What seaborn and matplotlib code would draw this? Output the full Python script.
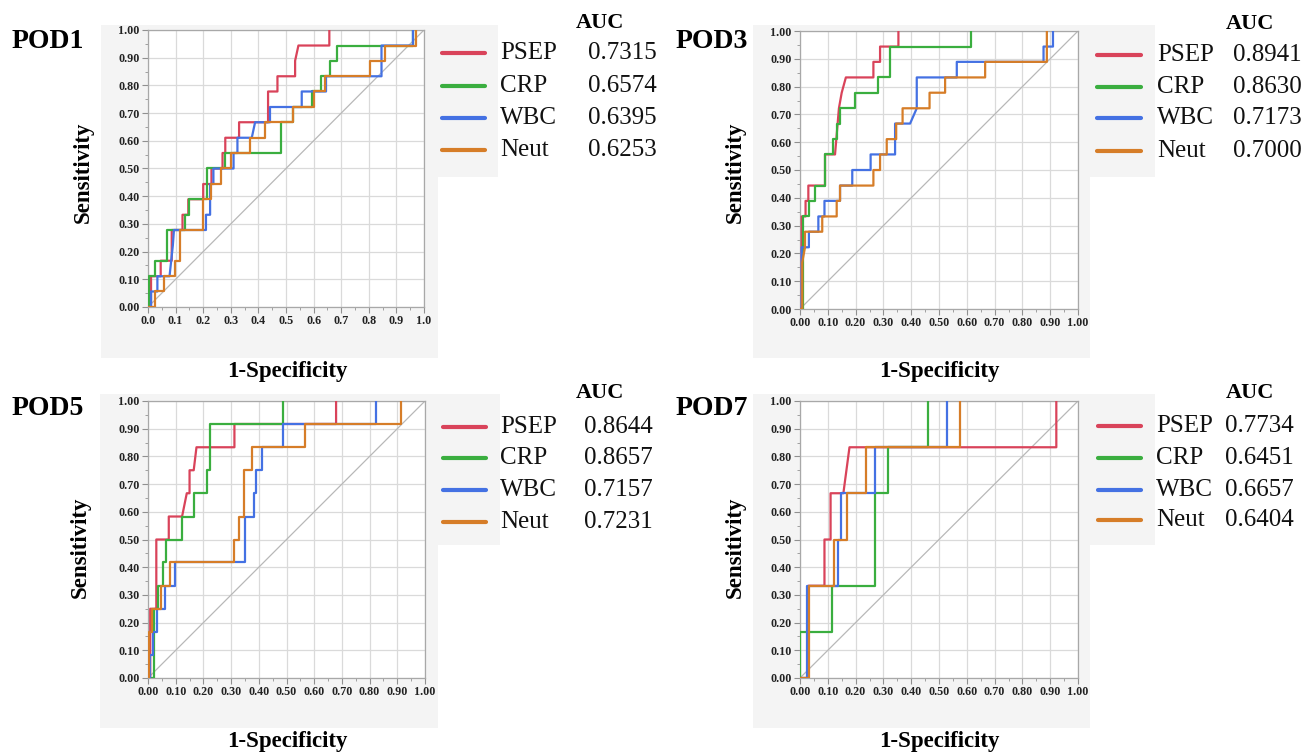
import numpy as np
import pandas as pd
import matplotlib
matplotlib.use("Agg")
import matplotlib.pyplot as plt
import seaborn as sns
from matplotlib.patches import Rectangle
from matplotlib.lines import Line2D
from matplotlib.ticker import MultipleLocator, FormatStrFormatter

# ---------------- data ----------------
markers = ["PSEP", "CRP", "WBC", "Neut"]
colors = ["#d9435a", "#3aae3f", "#4471e3", "#d67d28"]
panels = ["POD1", "POD3", "POD5", "POD7"]

auc_pod1 = ["0.7315", "0.6574", "0.6395", "0.6253"]
auc_pod3 = ["0.8941", "0.8630", "0.7173", "0.7000"]
auc_pod5 = ["0.8644", "0.8657", "0.7157", "0.7231"]
auc_pod7 = ["0.7734", "0.6451", "0.6657", "0.6404"]

diag = [0.0, 1.0]

# POD1
pod1_psep_x = [0, 0.011, 0.011, 0.046, 0.046, 0.086, 0.086, 0.125, 0.125, 0.146, 0.146, 0.2, 0.2, 0.23, 0.23, 0.27, 0.27, 0.28, 0.28, 0.33, 0.33, 0.435, 0.435, 0.469, 0.469, 0.533, 0.533, 0.545, 0.657, 0.657]
pod1_psep_y = [0, 0, 0.111, 0.111, 0.167, 0.167, 0.278, 0.278, 0.333, 0.333, 0.389, 0.389, 0.444, 0.444, 0.5, 0.5, 0.556, 0.556, 0.611, 0.611, 0.667, 0.667, 0.778, 0.778, 0.833, 0.833, 0.889, 0.944, 0.944, 1.0]
pod1_crp_x = [0, 0.004, 0.004, 0.027, 0.027, 0.069, 0.069, 0.135, 0.135, 0.148, 0.148, 0.215, 0.215, 0.28, 0.28, 0.482, 0.482, 0.527, 0.527, 0.593, 0.593, 0.625, 0.625, 0.66, 0.66, 0.683, 0.683, 0.96, 0.96]
pod1_crp_y = [0, 0, 0.111, 0.111, 0.167, 0.167, 0.278, 0.278, 0.333, 0.333, 0.389, 0.389, 0.5, 0.5, 0.556, 0.556, 0.667, 0.667, 0.722, 0.722, 0.778, 0.778, 0.833, 0.833, 0.889, 0.889, 0.944, 0.944, 1.0]
pod1_wbc_x = [0, 0.011, 0.011, 0.034, 0.034, 0.078, 0.09, 0.094, 0.21, 0.21, 0.225, 0.225, 0.237, 0.237, 0.31, 0.31, 0.324, 0.324, 0.376, 0.388, 0.442, 0.442, 0.557, 0.557, 0.645, 0.645, 0.846, 0.846, 0.96, 0.96]
pod1_wbc_y = [0, 0, 0.056, 0.056, 0.111, 0.111, 0.222, 0.278, 0.278, 0.333, 0.333, 0.444, 0.444, 0.5, 0.5, 0.556, 0.556, 0.611, 0.611, 0.667, 0.667, 0.722, 0.722, 0.778, 0.778, 0.833, 0.833, 0.944, 0.944, 1.0]
pod1_neut_x = [0, 0.025, 0.025, 0.058, 0.058, 0.098, 0.098, 0.116, 0.116, 0.2, 0.2, 0.23, 0.23, 0.266, 0.266, 0.302, 0.302, 0.37, 0.37, 0.424, 0.424, 0.527, 0.527, 0.603, 0.603, 0.641, 0.641, 0.804, 0.804, 0.858, 0.858, 0.97, 0.97]
pod1_neut_y = [0, 0, 0.056, 0.056, 0.111, 0.111, 0.167, 0.167, 0.278, 0.278, 0.389, 0.389, 0.444, 0.444, 0.5, 0.5, 0.556, 0.556, 0.611, 0.611, 0.667, 0.667, 0.722, 0.722, 0.778, 0.778, 0.833, 0.833, 0.889, 0.889, 0.944, 0.944, 1.0]

# POD3
pod3_psep_x = [0, 0.006, 0.006, 0.02, 0.02, 0.03, 0.03, 0.09, 0.09, 0.126, 0.14, 0.15, 0.165, 0.264, 0.264, 0.288, 0.288, 0.354, 0.354]
pod3_psep_y = [0, 0, 0.333, 0.333, 0.389, 0.389, 0.444, 0.444, 0.556, 0.556, 0.722, 0.778, 0.833, 0.833, 0.889, 0.889, 0.944, 0.944, 1.0]
pod3_crp_x = [0, 0.012, 0.012, 0.032, 0.032, 0.054, 0.054, 0.09, 0.09, 0.12, 0.12, 0.132, 0.132, 0.145, 0.145, 0.198, 0.198, 0.28, 0.28, 0.322, 0.322, 0.615, 0.615]
pod3_crp_y = [0, 0, 0.333, 0.333, 0.389, 0.389, 0.444, 0.444, 0.556, 0.556, 0.611, 0.611, 0.667, 0.667, 0.722, 0.722, 0.778, 0.778, 0.833, 0.833, 0.944, 0.944, 1.0]
pod3_wbc_x = [0, 0.006, 0.006, 0.032, 0.032, 0.066, 0.066, 0.088, 0.088, 0.144, 0.144, 0.188, 0.188, 0.254, 0.254, 0.342, 0.342, 0.396, 0.42, 0.42, 0.564, 0.564, 0.876, 0.876, 0.91, 0.91]
pod3_wbc_y = [0, 0, 0.222, 0.222, 0.278, 0.278, 0.333, 0.333, 0.389, 0.389, 0.444, 0.444, 0.5, 0.5, 0.556, 0.556, 0.667, 0.667, 0.722, 0.833, 0.833, 0.889, 0.889, 0.944, 0.944, 1.0]
pod3_neut_x = [0, 0.008, 0.008, 0.018, 0.018, 0.08, 0.08, 0.132, 0.132, 0.144, 0.144, 0.264, 0.264, 0.288, 0.288, 0.312, 0.312, 0.346, 0.346, 0.369, 0.369, 0.466, 0.466, 0.522, 0.522, 0.666, 0.666, 0.888, 0.888]
pod3_neut_y = [0, 0, 0.167, 0.222, 0.278, 0.278, 0.333, 0.333, 0.389, 0.389, 0.444, 0.444, 0.5, 0.5, 0.556, 0.556, 0.611, 0.611, 0.667, 0.667, 0.722, 0.722, 0.778, 0.778, 0.833, 0.833, 0.889, 0.889, 1.0]

# POD5
pod5_psep_x = [0, 0.008, 0.008, 0.03, 0.03, 0.075, 0.075, 0.123, 0.14, 0.15, 0.15, 0.165, 0.175, 0.312, 0.312, 0.679, 0.679]
pod5_psep_y = [0, 0, 0.25, 0.25, 0.5, 0.5, 0.583, 0.583, 0.667, 0.667, 0.75, 0.75, 0.833, 0.833, 0.917, 0.917, 1.0]
pod5_crp_x = [0, 0.02, 0.02, 0.035, 0.035, 0.053, 0.053, 0.065, 0.065, 0.123, 0.123, 0.167, 0.167, 0.213, 0.213, 0.223, 0.223, 0.489, 0.489]
pod5_crp_y = [0, 0, 0.25, 0.25, 0.333, 0.333, 0.417, 0.417, 0.5, 0.5, 0.583, 0.583, 0.667, 0.667, 0.75, 0.75, 0.917, 0.917, 1.0]
pod5_wbc_x = [0, 0.007, 0.007, 0.017, 0.017, 0.031, 0.031, 0.061, 0.061, 0.098, 0.098, 0.349, 0.349, 0.381, 0.381, 0.389, 0.389, 0.413, 0.413, 0.489, 0.489, 0.823, 0.823]
pod5_wbc_y = [0, 0, 0.083, 0.083, 0.167, 0.167, 0.25, 0.25, 0.333, 0.333, 0.417, 0.417, 0.583, 0.583, 0.667, 0.667, 0.75, 0.75, 0.833, 0.833, 0.917, 0.917, 1.0]
pod5_neut_x = [0, 0.005, 0.005, 0.013, 0.013, 0.046, 0.046, 0.079, 0.079, 0.309, 0.309, 0.33, 0.33, 0.345, 0.345, 0.377, 0.377, 0.567, 0.567, 0.913, 0.913]
pod5_neut_y = [0, 0, 0.167, 0.167, 0.25, 0.25, 0.333, 0.333, 0.417, 0.417, 0.5, 0.5, 0.583, 0.583, 0.75, 0.75, 0.833, 0.833, 0.917, 0.917, 1.0]

# POD7
pod7_psep_x = [0, 0.03, 0.03, 0.088, 0.088, 0.11, 0.11, 0.156, 0.178, 0.922, 0.922]
pod7_psep_y = [0, 0, 0.333, 0.333, 0.5, 0.5, 0.667, 0.667, 0.833, 0.833, 1.0]
pod7_crp_x = [0, 0, 0.114, 0.114, 0.268, 0.268, 0.316, 0.316, 0.462, 0.462]
pod7_crp_y = [0, 0.167, 0.167, 0.333, 0.333, 0.667, 0.667, 0.833, 0.833, 1.0]
pod7_wbc_x = [0, 0.024, 0.024, 0.136, 0.136, 0.146, 0.146, 0.27, 0.27, 0.528, 0.528]
pod7_wbc_y = [0, 0, 0.333, 0.333, 0.5, 0.5, 0.667, 0.667, 0.833, 0.833, 1.0]
pod7_neut_x = [0, 0.034, 0.034, 0.124, 0.124, 0.17, 0.17, 0.238, 0.238, 0.574, 0.574]
pod7_neut_y = [0, 0, 0.333, 0.333, 0.5, 0.5, 0.667, 0.667, 0.833, 0.833, 1.0]

curves = {
    "POD1": [(pod1_psep_x, pod1_psep_y), (pod1_crp_x, pod1_crp_y), (pod1_wbc_x, pod1_wbc_y), (pod1_neut_x, pod1_neut_y)],
    "POD3": [(pod3_psep_x, pod3_psep_y), (pod3_crp_x, pod3_crp_y), (pod3_wbc_x, pod3_wbc_y), (pod3_neut_x, pod3_neut_y)],
    "POD5": [(pod5_psep_x, pod5_psep_y), (pod5_crp_x, pod5_crp_y), (pod5_wbc_x, pod5_wbc_y), (pod5_neut_x, pod5_neut_y)],
    "POD7": [(pod7_psep_x, pod7_psep_y), (pod7_crp_x, pod7_crp_y), (pod7_wbc_x, pod7_wbc_y), (pod7_neut_x, pod7_neut_y)],
}
aucs = {"POD1": auc_pod1, "POD3": auc_pod3, "POD5": auc_pod5, "POD7": auc_pod7}

# ---------------- layout (pixels) ----------------
W, H = 1302, 755
sns.set_style("white")
plt.rcParams["font.family"] = ["Liberation Serif", "DejaVu Serif"]

fig = plt.figure(figsize=(W / 100, H / 100), dpi=100)
fig.patch.set_facecolor("white")

def fx(px):
    return px / W

def fy(py):
    return 1 - py / H

layout = {
    "POD1": dict(ax=(148, 30, 424, 307), box=(101, 25, 438, 358), lbox=(438, 25, 498, 177),
                 title=(12, 41), ylab=(83, 172), xlab=(287, 372),
                 lx=(442, 485), nx=500, vx=588, auc=(600, 23), rows=[53, 86, 118, 150], xfmt="%.1f"),
    "POD3": dict(ax=(800, 31, 1078, 309), box=(753, 25, 1090, 358), lbox=(1090, 25, 1155, 177),
                 title=(676, 41), ylab=(735, 172), xlab=(939, 372),
                 lx=(1097, 1141), nx=1157, vx=1233, auc=(1250, 24), rows=[55, 87, 118, 151], xfmt="%.2f"),
    "POD5": dict(ax=(148, 401, 425, 678), box=(100, 394, 438, 728), lbox=(438, 394, 500, 545),
                 title=(12, 409), ylab=(80, 547), xlab=(287, 742),
                 lx=(443, 486), nx=500, vx=584, auc=(600, 393), rows=[427, 458, 490, 522], xfmt="%.2f"),
    "POD7": dict(ax=(800, 401, 1078, 678), box=(753, 394, 1090, 728), lbox=(1090, 394, 1155, 545),
                 title=(676, 409), ylab=(735, 547), xlab=(939, 742),
                 lx=(1098, 1141), nx=1156, vx=1225, auc=(1250, 393), rows=[426, 458, 490, 520], xfmt="%.2f"),
}

bg = "#f4f4f4"
for p in panels:
    L = layout[p]
    for (x0, y0, x1, y1) in (L["box"], L["lbox"]):
        fig.add_artist(Rectangle((fx(x0), fy(y1)), (x1 - x0) / W, (y1 - y0) / H,
                                 transform=fig.transFigure, facecolor=bg, edgecolor="none", zorder=0))

for p in panels:
    L = layout[p]
    l, t, r, b = L["ax"]
    ax = fig.add_axes([fx(l), fy(b), (r - l) / W, (b - t) / H])
    ax.set_facecolor("white")

    sns.lineplot(x=diag, y=diag, color="#b8b8b8", linewidth=0.9, ax=ax, zorder=2)

    frames = []
    for name, (xs, ys) in zip(markers, curves[p]):
        frames.append(pd.DataFrame({"fpr": xs, "tpr": ys, "marker": name}))
    df = pd.concat(frames, ignore_index=True)
    sns.lineplot(data=df, x="fpr", y="tpr", hue="marker", hue_order=markers, palette=colors,
                 sort=False, estimator=None, legend=False, linewidth=1.6, ax=ax, zorder=3)

    ax.set_xlim(0, 1)
    ax.set_ylim(0, 1)
    ax.xaxis.set_major_locator(MultipleLocator(0.1))
    ax.xaxis.set_minor_locator(MultipleLocator(0.05))
    ax.yaxis.set_major_locator(MultipleLocator(0.1))
    ax.yaxis.set_minor_locator(MultipleLocator(0.05))
    ax.xaxis.set_major_formatter(FormatStrFormatter(L["xfmt"]))
    ax.yaxis.set_major_formatter(FormatStrFormatter("%.2f"))
    ax.grid(True, which="major", color="#dadada", linewidth=0.9, zorder=1)
    ax.set_axisbelow(True)
    for s in ax.spines.values():
        s.set_color("#a8a8a8")
        s.set_linewidth(0.9)
    ax.tick_params(which="major", direction="out", length=4, width=0.8, color="#909090",
                   labelsize=8.7, labelcolor="#222222", pad=2, bottom=True, left=True)
    ax.tick_params(which="minor", direction="out", length=2, width=0.7, color="#a0a0a0",
                   bottom=True, left=True)
    for lab in ax.get_xticklabels() + ax.get_yticklabels():
        lab.set_fontweight("bold")
    ax.set_xlabel("")
    ax.set_ylabel("")

    # labels
    fig.text(fx(L["title"][0]), fy(L["title"][1]), p, fontsize=20, fontweight="bold",
             ha="left", va="center", color="black")
    fig.text(fx(L["ylab"][0]), fy(L["ylab"][1]), "Sensitivity", fontsize=16.5, fontweight="bold",
             rotation=90, ha="center", va="center", color="black")
    fig.text(fx(L["xlab"][0]), fy(L["xlab"][1]), "1-Specificity", fontsize=16.5, fontweight="bold",
             ha="center", va="center", color="black")

    # legend
    fig.text(fx(L["auc"][0]), fy(L["auc"][1]), "AUC", fontsize=16, fontweight="bold",
             ha="center", va="center", color="black")
    for name, col, val, ry in zip(markers, colors, aucs[p], L["rows"]):
        fig.add_artist(Line2D([fx(L["lx"][0]), fx(L["lx"][1])], [fy(ry), fy(ry)],
                              transform=fig.transFigure, color=col, linewidth=3, solid_capstyle="round"))
        fig.text(fx(L["nx"]), fy(ry), name, fontsize=18, ha="left", va="center", color="#111111")
        fig.text(fx(L["vx"]), fy(ry), val, fontsize=18, ha="left", va="center", color="#111111")

fig.savefig("out.png", dpi=100)
